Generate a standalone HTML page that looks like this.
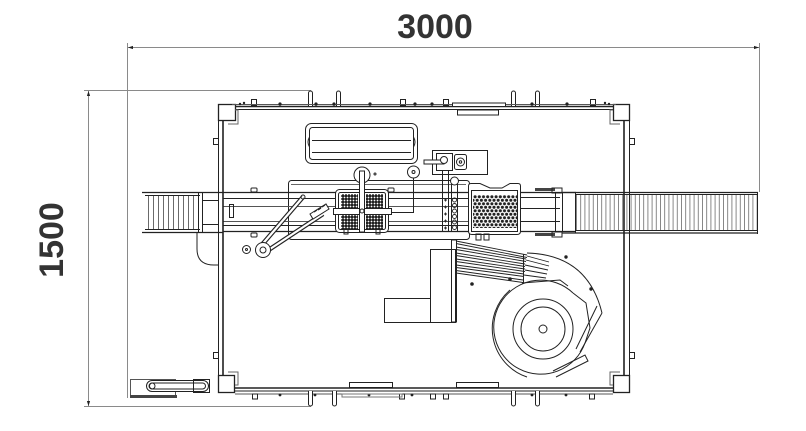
<!DOCTYPE html>
<html><head><meta charset="utf-8"><style>
html,body{margin:0;padding:0;background:#fff;}
svg{display:block;}
</style></head><body>
<svg width="806" height="431" viewBox="0 0 806 431" xmlns="http://www.w3.org/2000/svg">
<defs>
<pattern id="sl5" x="148" y="0" width="5" height="10" patternUnits="userSpaceOnUse"><line x1="0.5" y1="0" x2="0.5" y2="10" stroke="#444" stroke-width="0.8"/></pattern>
<pattern id="sl4" x="576" y="0" width="4.2" height="10" patternUnits="userSpaceOnUse"><line x1="0.5" y1="0" x2="0.5" y2="10" stroke="#555" stroke-width="0.7"/></pattern>
<pattern id="hex" x="473" y="195" width="4.2" height="7" patternUnits="userSpaceOnUse"><circle cx="2.1" cy="1.75" r="1.55" fill="#222"/><circle cx="0" cy="5.25" r="1.55" fill="#222"/><circle cx="4.2" cy="5.25" r="1.55" fill="#222"/></pattern>
<pattern id="brush" width="3" height="3" patternUnits="userSpaceOnUse"><rect width="3" height="3" fill="#666"/><rect x="0" y="0" width="2" height="2" fill="#222"/><rect x="2" y="2" width="1" height="1" fill="#fff"/></pattern>
</defs>

<!-- dimension lines -->
<g stroke="#8a8a8a" stroke-width="1" fill="none">
<line x1="127" y1="47.5" x2="759" y2="47.5"/>
<line x1="127.5" y1="43" x2="127.5" y2="398"/>
<line x1="759.5" y1="43" x2="759.5" y2="192"/>
<line x1="88.5" y1="90" x2="88.5" y2="406"/>
<line x1="84" y1="90.5" x2="311" y2="90.5"/>
<line x1="84" y1="406.5" x2="311" y2="406.5"/>
</g>
<g fill="#222">
<path d="M128,47.5 l5,-1.6 v3.2z"/>
<path d="M759,47.5 l-5,-1.6 v3.2z"/>
<path d="M88.5,91 l-1.6,5 h3.2z"/>
<path d="M88.5,406 l-1.6,-5 h3.2z"/>
</g>
<text x="435" y="38" font-family="Liberation Sans, Arial, sans-serif" font-size="34" font-weight="bold" text-anchor="middle" fill="#333">3000</text>
<text transform="translate(63,240) rotate(-90)" x="0" y="0" font-family="Liberation Sans, Arial, sans-serif" font-size="34" font-weight="bold" text-anchor="middle" fill="#333">1500</text>

<g stroke="#222" stroke-width="1" fill="none">
<!-- left conveyor -->
<rect x="148" y="195" width="50" height="35" fill="url(#sl5)" stroke="none"/>
<line x1="142" y1="192.5" x2="223" y2="192.5" stroke-width="1.3"/>
<line x1="145" y1="195.5" x2="200" y2="195.5"/>
<line x1="145" y1="229.5" x2="200" y2="229.5"/>
<line x1="142" y1="232.5" x2="223" y2="232.5" stroke-width="1.3"/>
<line x1="198.5" y1="193" x2="198.5" y2="232"/>
<line x1="202.5" y1="193" x2="202.5" y2="232"/>
<line x1="202" y1="200.5" x2="218" y2="200.5"/>
<line x1="202" y1="224.5" x2="218" y2="224.5"/>
<path d="M197,233 V249 Q197,265 214,265 H218"/>

<!-- backdrop plate -->
<rect x="288.5" y="180.5" width="181" height="59" rx="3"/>
<line x1="291" y1="184.5" x2="466" y2="184.5" stroke="#666"/>
<!-- rails middle -->
<line x1="223" y1="192.5" x2="470" y2="192.5" stroke-width="1.2"/>
<line x1="223" y1="198.5" x2="470" y2="198.5"/>
<line x1="223" y1="206.5" x2="470" y2="206.5" stroke="#555"/>
<line x1="223" y1="221.5" x2="470" y2="221.5" stroke="#555"/>
<line x1="223" y1="225.5" x2="470" y2="225.5"/>
<line x1="223" y1="231.5" x2="470" y2="231.5" stroke-width="1.2"/>
<rect x="251" y="188" width="6" height="4" rx="1"/>
<rect x="251" y="233" width="6" height="4" rx="1"/>
<rect x="388" y="188" width="6" height="4" rx="1"/>
<rect x="229.5" y="204.5" width="4" height="13"/>

<!-- left arms -->
<line x1="303" y1="197" x2="260" y2="247" stroke-width="4.5"/>
<line x1="303" y1="197" x2="260" y2="247" stroke="#fff" stroke-width="2.2"/>
<line x1="323" y1="214" x2="267" y2="251" stroke-width="4.5"/>
<line x1="323" y1="214" x2="267" y2="251" stroke="#fff" stroke-width="2.2"/>
<circle cx="303" cy="197" r="2"/>
<path d="M310,214 L326,204 L329,209 L313,219 Z" fill="#fff"/>
<path d="M314,212 l3,-2 M318,210 l3,-2 M322,207 l3,-2" stroke-width="1.3"/>
<circle cx="263" cy="250" r="7.5" fill="#fff"/>
<circle cx="263" cy="250" r="3"/>
<circle cx="246.5" cy="249.5" r="4"/>
<circle cx="246.5" cy="249.5" r="1"/>

<!-- HMI display -->
<rect x="305.5" y="123.5" width="112" height="40" rx="6"/>
<rect x="309.5" y="127.5" width="104" height="32" rx="3"/>
<line x1="312" y1="140.5" x2="411" y2="140.5"/>
<line x1="312" y1="152.5" x2="411" y2="152.5"/>
<path d="M309.5,137 q-3,5 0,10 M413.5,137 q3,5 0,10"/>

<!-- knob and brush -->
<circle cx="362" cy="175" r="8" fill="#fff"/>
<circle cx="375" cy="174" r="1"/>
<rect x="335.5" y="189.5" width="53" height="43" rx="4" fill="#fff"/>
<rect x="338.5" y="192.5" width="47" height="37" rx="2"/>
<rect x="341" y="194" width="17" height="14" fill="url(#brush)" stroke="none"/>
<rect x="366" y="194" width="17" height="14" fill="url(#brush)" stroke="none"/>
<rect x="341" y="215" width="17" height="14" fill="url(#brush)" stroke="none"/>
<rect x="366" y="215" width="17" height="14" fill="url(#brush)" stroke="none"/>
<rect x="333.5" y="208.5" width="58" height="6" fill="#fff"/>
<rect x="359.5" y="171" width="5" height="61" fill="#fff"/>
<circle cx="362" cy="211" r="2"/>
<rect x="344" y="229" width="4" height="5"/>
<rect x="376" y="229" width="4" height="5"/>
<path d="M391,212.5 H413.5 V178"/>
<circle cx="413.5" cy="172" r="6" fill="#fff"/>
<circle cx="413.5" cy="172" r="1.5"/>

<!-- control box -->
<rect x="432.5" y="150.5" width="55" height="24"/>
<rect x="436.5" y="153.5" width="16" height="17"/>
<rect x="424" y="160" width="20" height="4" fill="#fff"/>
<circle cx="444" cy="160" r="3.5" fill="#fff"/>
<rect x="454.5" y="154.5" width="12" height="15" rx="2"/>
<circle cx="460.5" cy="162" r="4"/>
<circle cx="460.5" cy="162" r="1.2"/>
<!-- control column -->
<line x1="442.5" y1="170" x2="442.5" y2="232"/>
<line x1="448.5" y1="170" x2="448.5" y2="232"/>
<line x1="451.5" y1="180" x2="451.5" y2="232"/>
<line x1="457.5" y1="180" x2="457.5" y2="232"/>
<circle cx="454.5" cy="181" r="4" fill="#fff"/>
<g stroke-width="0.9">
<circle cx="454.5" cy="200" r="2"/><circle cx="454.5" cy="205.5" r="2"/><circle cx="454.5" cy="211" r="2"/><circle cx="454.5" cy="216.5" r="2"/><circle cx="454.5" cy="222" r="2"/><circle cx="454.5" cy="227.5" r="2"/>
<path d="M444,200 h3 M445.5,198.5 v3 M444,207 h3 M445.5,205.5 v3 M444,214 h3 M445.5,212.5 v3 M444,221 h3 M445.5,219.5 v3 M444,228 h3 M445.5,226.5 v3"/>
</g>

<!-- perforated box -->
<path d="M468.5,186 Q468.5,183.5 471,183.5 H480 L490,188 H502 L510,183.5 H518 Q520.5,183.5 520.5,186 V231 Q520.5,234.5 517,234.5 H472 Q468.5,234.5 468.5,231 Z" fill="#fff"/>
<rect x="471.5" y="190.5" width="46" height="41"/>
<rect x="473" y="195" width="45" height="33" fill="url(#hex)" stroke="none"/>
<rect x="476" y="234" width="5" height="6"/>
<rect x="484" y="234" width="5" height="6"/>
<!-- rails right portion -->
<line x1="520" y1="192.5" x2="576" y2="192.5" stroke-width="1.2"/>
<line x1="520" y1="197.5" x2="560" y2="197.5"/>
<line x1="520" y1="208.5" x2="560" y2="208.5"/>
<line x1="520" y1="221.5" x2="560" y2="221.5"/>
<line x1="520" y1="231.5" x2="576" y2="231.5" stroke-width="1.2"/>
<line x1="555.5" y1="193" x2="555.5" y2="232"/>
<line x1="562.5" y1="193" x2="562.5" y2="232"/>
<line x1="575.5" y1="192" x2="575.5" y2="233"/>
<rect x="535" y="188" width="20" height="3" fill="#444" stroke="none"/>
<rect x="535" y="233" width="20" height="3" fill="#444" stroke="none"/>
<rect x="552" y="188" width="10" height="5"/>
<rect x="552" y="232" width="10" height="5"/>

<!-- right conveyor -->
<rect x="576" y="194.5" width="182" height="36.5" fill="url(#sl4)" stroke="none"/>
<line x1="562" y1="192.5" x2="758" y2="192.5" stroke-width="1.3"/>
<line x1="576" y1="194.5" x2="758" y2="194.5"/>
<line x1="576" y1="230.5" x2="758" y2="230.5"/>
<line x1="562" y1="233" x2="758" y2="233" stroke-width="1.3"/>
<line x1="757.5" y1="192" x2="757.5" y2="234"/>

<!-- lower blocks -->
<rect x="384.5" y="298.5" width="46" height="24"/>
<rect x="430.5" y="249.5" width="25" height="73"/>
<rect x="451.5" y="240" width="5" height="82"/>
<!-- tubes -->
<g stroke-width="0.9">
<path d="M456,241 L527,255 M456,243.5 L527,257.5"/>
<path d="M456,247 L526,259 M456,249.5 L526,261.5"/>
<path d="M456,253 L525,264 M456,255.5 L525,266.5"/>
<path d="M456,259 L525,269 M456,261.5 L525,271.5"/>
<path d="M456,265 L524,274 M456,267.5 L524,276.5"/>
<path d="M456,270.5 L523,280 M456,273 L523,282.5"/>
<path d="M527,256 L549,262 M526,260 L549,266 M525,265 L548,270 M525,270 L547,274 M524,275 L546,278"/>
</g>
<line x1="523.5" y1="254" x2="523.5" y2="283"/>
<circle cx="472" cy="284" r="1.3" fill="#222"/>
<circle cx="510" cy="279" r="1.3" fill="#222"/>
<!-- guard -->
<path d="M527,253 C565,254 592,272 602,313"/>
<path d="M602,313 L580,352 M597,306 L576,349"/>
<circle cx="566" cy="257" r="1.2" fill="#222"/>
<circle cx="591" cy="289" r="1.2" fill="#222"/>
<!-- disc -->
<path d="M573,293 A47,47 0 1 0 585,343"/>
<path d="M573,293 L586,303 L590,328 L585,343"/>
<path d="M510,290 A51,51 0 0 0 527,377"/>
<circle cx="543" cy="329" r="30"/>
<circle cx="543" cy="329" r="22"/>
<circle cx="543" cy="329" r="4"/>
<path d="M553,371 L585,355 L588,361 L556,377"/>
<path d="M522,283 L560,280 L568,286"/>

<!-- frame -->
<line x1="218" y1="106.5" x2="630" y2="106.5" stroke-width="1.6"/>
<line x1="224" y1="109.5" x2="624" y2="109.5"/>
<line x1="218" y1="388" x2="630" y2="388" stroke-width="1.6"/>
<line x1="224" y1="391" x2="624" y2="391"/>
<line x1="235" y1="394" x2="613" y2="394" stroke="#555"/>
<line x1="218.5" y1="104" x2="218.5" y2="393"/>
<line x1="223" y1="110" x2="223" y2="387" stroke-width="1.6"/>
<line x1="624" y1="110" x2="624" y2="387" stroke-width="1.6"/>
<line x1="629.5" y1="104" x2="629.5" y2="393"/>
<rect x="218.5" y="104.5" width="17" height="16" fill="#fff" stroke-width="1.3"/>
<rect x="613.5" y="104.5" width="16" height="16" fill="#fff" stroke-width="1.3"/>
<rect x="218.5" y="375.5" width="16" height="17" fill="#fff" stroke-width="1.3"/>
<rect x="613.5" y="375.5" width="16" height="17" fill="#fff" stroke-width="1.3"/>
<path d="M235,110 H238 V124 H228" stroke="#666"/>
<path d="M613,110 H610 V124 H620" stroke="#666"/>
<path d="M235,385 H238 V372 H228" stroke="#666"/>
<path d="M613,385 H610 V372 H620" stroke="#666"/>
<!-- side stubs -->
<rect x="213.5" y="138.5" width="5" height="6"/>
<rect x="213.5" y="352.5" width="5" height="6"/>
<rect x="629.5" y="138.5" width="5" height="6"/>
<rect x="629.5" y="352.5" width="5" height="6"/>

<!-- top tabs and bumps -->
<g fill="#fff">
<path d="M308.5,106 V93 a2,2 0 0 1 4,0 V106"/>
<path d="M336.5,106 V93 a2,2 0 0 1 4,0 V106"/>
<path d="M511.5,106 V93 a2,2 0 0 1 4,0 V106"/>
<path d="M535.5,106 V93 a2,2 0 0 1 4,0 V106"/>
<rect x="251.5" y="99.5" width="5" height="6"/>
<rect x="400.5" y="99.5" width="5" height="6"/>
<rect x="443.5" y="99.5" width="5" height="6"/>
<rect x="590.5" y="99.5" width="5" height="6"/>
</g>
<line x1="232" y1="104.5" x2="616" y2="104.5" stroke="#555"/>
<g fill="#222" stroke="none">
<circle cx="280" cy="104" r="1.6"/><circle cx="316" cy="104" r="1.6"/><circle cx="334" cy="104" r="1.6"/><circle cx="370" cy="104" r="1.6"/><circle cx="415" cy="104" r="1.6"/><circle cx="432" cy="104" r="1.6"/><circle cx="532" cy="104" r="1.6"/><circle cx="567" cy="104" r="1.6"/>
<circle cx="240" cy="104" r="1.2"/><circle cx="244" cy="103" r="1.2"/><circle cx="605" cy="103" r="1.2"/><circle cx="609" cy="104" r="1.2"/>
</g>
<rect x="452.5" y="103" width="53" height="3.5" fill="#fff"/>
<rect x="457.5" y="110" width="41" height="5"/>
<!-- bottom tabs and bumps -->
<g fill="#fff">
<path d="M308.5,391 V404 a2,2 0 0 0 4,0 V391"/>
<path d="M332.5,391 V404 a2,2 0 0 0 4,0 V391"/>
<path d="M511.5,391 V404 a2,2 0 0 0 4,0 V391"/>
<path d="M535.5,391 V404 a2,2 0 0 0 4,0 V391"/>
<rect x="252.5" y="394" width="5" height="5"/>
<rect x="399.5" y="394" width="5" height="5"/>
<rect x="430.5" y="394" width="5" height="5"/>
<rect x="443.5" y="394" width="5" height="5"/>
<rect x="589.5" y="394" width="5" height="5"/>
</g>
<g fill="#222" stroke="none">
<circle cx="280" cy="395" r="1.4"/><circle cx="315" cy="395" r="1.4"/><circle cx="369" cy="395" r="1.4"/><circle cx="412" cy="395" r="1.4"/><circle cx="532" cy="395" r="1.4"/><circle cx="566" cy="395" r="1.4"/>
</g>
<rect x="349.5" y="382.5" width="43" height="5" fill="#fff"/>
<rect x="456.5" y="382.5" width="42" height="5" fill="#fff"/>
<rect x="342" y="394" width="60" height="3" stroke="#777"/>

<!-- bottom-left cylinder -->
<rect x="130.5" y="379.5" width="45" height="18" stroke="#555"/>
<rect x="130" y="395" width="47" height="3" fill="#444" stroke="none"/>
<rect x="146.5" y="380.5" width="62" height="11" rx="5.5" fill="#fff"/>
<rect x="149.5" y="383" width="56" height="6" rx="3"/>
<rect x="193.5" y="379.5" width="16" height="13"/>
<circle cx="152" cy="386" r="3"/>
</g>
</svg>
</body></html>
